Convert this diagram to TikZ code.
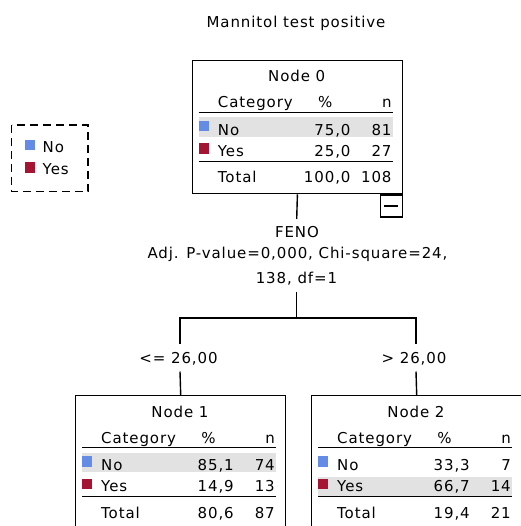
\documentclass[tikz,border=0pt]{standalone}
\usepackage{fontspec}
\setmainfont{DejaVu Sans}[LetterSpace=6]
\definecolor{catblue}{RGB}{100,140,230}
\definecolor{catred}{RGB}{165,20,50}
\definecolor{bandgray}{RGB}{226,226,226}
\tikzset{
  txt/.style={inner sep=0pt, font=\fontsize{15}{18}\selectfont},
  boxline/.style={line width=1.4pt},
  rule/.style={line width=1.8pt},
  conn/.style={line width=1.4pt},
}
% #1 name, #2 left, #3 top, #4 title, #5 band offset (57.5 = No row, 81.5 = Yes row), #6 total pct, #7 total n
\newcommand{\ctnode}[7]{%
  \fill[bandgray] ({#2+7},{#3+#5}) rectangle ({#2+201},{#3+#5+19.5});
  \node[draw, boxline, anchor=north west, minimum width=210pt, minimum height=133pt, inner sep=0pt] (#1) at ({#2},{#3}) {};
  \node[txt, anchor=base] (#1title) at ({#2+105},{#3+22}) {#4};
  \node[txt, anchor=base west] (#1cat) at ({#2+26},{#3+48}) {Category};
  \node[txt, anchor=base] (#1pct) at ({#2+133.5},{#3+48}) {\%};
  \node[txt, anchor=base east] (#1n) at ({#2+200},{#3+48}) {n};
  \draw[rule] ({#2+7},{#3+52.5}) -- ({#2+201},{#3+52.5});
  \draw[rule] ({#2+7},{#3+101.5}) -- ({#2+201},{#3+101.5});
  \fill[catblue] ({#2+7},{#3+61}) rectangle ({#2+17},{#3+71.5});
  \fill[catred] ({#2+7},{#3+83.5}) rectangle ({#2+17},{#3+94});
  \node[txt, anchor=base west] (#1no) at ({#2+26},{#3+75.5}) {No};
  \node[txt, anchor=base west] (#1yes) at ({#2+26},{#3+96.5}) {Yes};
  \node[txt, anchor=base west] (#1tot) at ({#2+26},{#3+123}) {Total};
  \node[txt, anchor=base east] (#1totp) at ({#2+159},{#3+123}) {#6};
  \node[txt, anchor=base east] (#1totn) at ({#2+200},{#3+123}) {#7};
}
% #1 name, #2 left, #3 top, #4 no pct, #5 no n, #6 yes pct, #7 yes n
\newcommand{\ctrows}[7]{%
  \node[txt, anchor=base east] (#1nop) at ({#2+159},{#3+75.5}) {#4};
  \node[txt, anchor=base east] (#1non) at ({#2+200},{#3+75.5}) {#5};
  \node[txt, anchor=base east] (#1yesp) at ({#2+159},{#3+96.5}) {#6};
  \node[txt, anchor=base east] (#1yesn) at ({#2+200},{#3+96.5}) {#7};
}
\begin{document}
\begin{tikzpicture}[x=1pt,y=-1pt]
\useasboundingbox[fill=white] (0,0) rectangle (520,526);

% title
\node[txt, anchor=base] (title) at (296,28) {Mannitol test positive};

% legend
\draw[line width=1.4pt, dash pattern=on 8pt off 5pt] (11.7,125) rectangle (88,191.7);
\fill[catblue] (25,140) rectangle (35,150.5);
\fill[catred] (25,162.5) rectangle (35,173);
\node[txt, anchor=base west] (legno) at (42.5,152.5) {No};
\node[txt, anchor=base west] (legyes) at (42.5,174.5) {Yes};

% nodes
\ctnode{n0}{191.7}{60}{Node 0}{57.5}{100,0}{108}
\ctrows{n0}{191.7}{60}{75,0}{81}{25,0}{27}
\ctnode{n1}{75}{395}{Node 1}{57.5}{80,6}{87}
\ctrows{n1}{75}{395}{85,1}{74}{14,9}{13}
\ctnode{n2}{311}{395}{Node 2}{81.5}{19,4}{21}
\ctrows{n2}{311}{395}{33,3}{7}{66,7}{14}

% collapse box
\node[draw, boxline, anchor=north east, minimum width=22pt, minimum height=22pt, inner sep=0pt] (minus) at (n0.south east) {};
\draw[line width=1.6pt] ([xshift=-7pt]minus.center) -- ([xshift=7pt]minus.center);

% split labels
\node[txt, anchor=base] (feno) at (297,237.2) {FENO};
\node[txt, anchor=base] (adj) at (297.5,258.5) {Adj. P-value=0,000, Chi-square=24,};
\node[txt, anchor=base] (dfl) at (296.5,283.5) {138, df=1};

\coordinate (c0) at (296.7,219);
\coordinate (c1) at (296.7,291.5);
\coordinate (sp) at (296.7,318);
\coordinate (sl) at (180,318);
\coordinate (sr) at (416,318);
\coordinate (sl2) at (180,343.5);
\coordinate (sr2) at (416,343.5);
\coordinate (sl3) at (180,371.5);
\coordinate (sr3) at (416,371.5);

\draw[conn] (n0.south) -- (c0);
\draw[conn] (c1) -- (sp);
\draw[conn] (sl2) -- (sl) -- (sr) -- (sr2);
\node[txt, anchor=base] (lleft) at (178.5,363.5) {<= 26,00};
\node[txt, anchor=base] (lright) at (414,363.5) {> 26,00};
\draw[conn] (sl3) -- (n1.north);
\draw[conn] (sr3) -- (n2.north);
\end{tikzpicture}
\end{document}
